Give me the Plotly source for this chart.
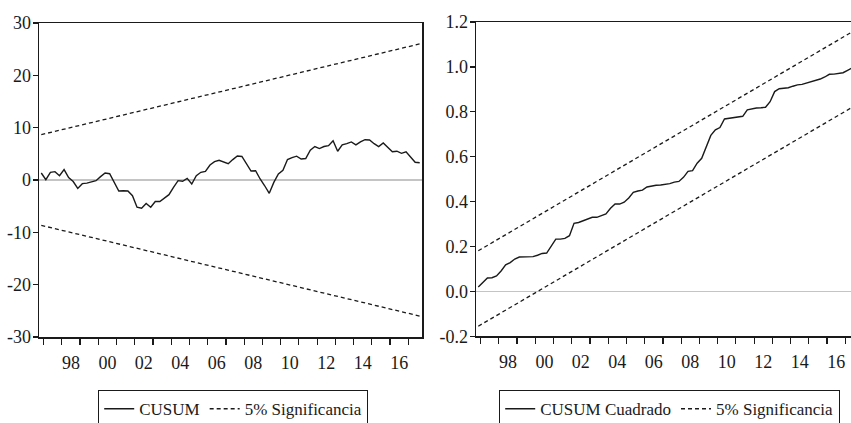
import plotly.graph_objects as go

# ---- data (quarterly, 1996Q4 .. 2017Q3) ----
start_year, start_q, n_obs = 1996, 4, 84
quarters = []
y, q = start_year, start_q
for _ in range(n_obs):
    quarters.append(f"{y}Q{q}")
    q += 1
    if q > 4:
        q, y = 1, y + 1

cusum = [1.34, 0.06, 1.47, 1.6, 0.83, 1.98, 0.45, -0.3, -1.6, -0.7,
         -0.6, -0.4, -0.13, 0.64, 1.34, 1.2, -0.45, -2.1, -2.04, -2.1,
         -3.0, -5.2, -5.4, -4.5, -5.2, -4.1, -4.1, -3.5, -2.8, -1.4,
         -0.13, -0.25, 0.32, -0.76, 0.83, 1.47, 1.66, 2.87, 3.5, 3.76,
         3.44, 3.12, 3.9, 4.6, 4.5, 3.1, 1.72, 1.78, 0.19, -1.1,
         -2.55, -0.45, 1.15, 1.85, 3.9, 4.26, 4.55, 4.0, 4.1, 5.7,
         6.4, 6.0, 6.4, 6.56, 7.5, 5.5, 6.7, 6.94, 7.27, 6.7,
         7.3, 7.7, 7.65, 6.94, 6.37, 7.07, 6.3, 5.4, 5.5, 5.1,
         5.4, 4.46, 3.38, 3.3]

cusum_sq = [0.02, 0.04, 0.06, 0.061, 0.069, 0.091, 0.118, 0.128, 0.144, 0.153,
            0.153, 0.153, 0.155, 0.161, 0.169, 0.171, 0.204, 0.233, 0.233, 0.236,
            0.248, 0.303, 0.307, 0.315, 0.322, 0.33, 0.33, 0.336, 0.345, 0.37,
            0.389, 0.389, 0.397, 0.416, 0.441, 0.447, 0.451, 0.465, 0.47, 0.473,
            0.474, 0.476, 0.48, 0.487, 0.49, 0.508, 0.535, 0.538, 0.571, 0.593,
            0.64, 0.695, 0.72, 0.73, 0.768, 0.771, 0.775, 0.779, 0.78, 0.809,
            0.814, 0.817, 0.818, 0.82, 0.845, 0.89, 0.903, 0.904, 0.907, 0.914,
            0.92, 0.922, 0.928, 0.932, 0.938, 0.946, 0.955, 0.967, 0.968, 0.97,
            0.974, 0.985, 0.995, 1.0]

cusum_upper = [8.67, 26.0]
cusum_lower = [-8.67, -26.0]
cusumsq_upper = [0.181, 1.168]
cusumsq_lower = [-0.155, 0.832]

x_tick_labels = ["98", "00", "02", "04", "06", "08", "10", "12", "14", "16"]
left_y_ticks = [30, 20, 10, 0, -10, -20, -30]
left_y_labels = ["30", "20", "10", "0", "-10", "-20", "-30"]
right_y_ticks = [1.2, 1.0, 0.8, 0.6, 0.4, 0.2, 0.0, -0.2]
right_y_labels = ["1.2", "1.0", "0.8", "0.6", "0.4", "0.2", "0.0", "-0.2"]

# ---- helpers ----
def q_to_num(s):
    yy, qq = s.split("Q")
    return int(yy) + (int(qq) - 1) * 0.25 + 0.125

xs = [q_to_num(s) for s in quarters]
x_ends = [xs[0], xs[-1]]
label_pos = [1998.5 + 2 * i for i in range(len(x_tick_labels))]
year_ticks = list(range(1997, 2018))

FONT = "Liberation Serif"
INK = "#1a1a1a"
DASH = "4px,3px"

fig = go.Figure()

# Left: CUSUM
fig.add_trace(go.Scatter(x=xs, y=cusum, mode="lines", name="CUSUM",
                         line=dict(color=INK, width=1.4), xaxis="x", yaxis="y",
                         legend="legend"))
fig.add_trace(go.Scatter(x=x_ends, y=cusum_upper, mode="lines", name="5% Significancia",
                         line=dict(color=INK, width=1.3, dash=DASH), xaxis="x", yaxis="y",
                         legend="legend"))
fig.add_trace(go.Scatter(x=x_ends, y=cusum_lower, mode="lines", showlegend=False,
                         line=dict(color=INK, width=1.3, dash=DASH), xaxis="x", yaxis="y"))

# Right: CUSUM squared
fig.add_trace(go.Scatter(x=xs, y=cusum_sq, mode="lines", name="CUSUM Cuadrado",
                         line=dict(color=INK, width=1.4), xaxis="x2", yaxis="y2",
                         legend="legend2"))
fig.add_trace(go.Scatter(x=x_ends, y=cusumsq_upper, mode="lines", name="5% Significancia",
                         line=dict(color=INK, width=1.3, dash=DASH), xaxis="x2", yaxis="y2",
                         legend="legend2"))
fig.add_trace(go.Scatter(x=x_ends, y=cusumsq_lower, mode="lines", showlegend=False,
                         line=dict(color=INK, width=1.3, dash=DASH), xaxis="x2", yaxis="y2"))

# Figure is a bit larger than the 851x423 window: the right panel and the
# legend boxes run past the window edge, as in the reference.
W, H = 870, 445

def xaxis_cfg(domain, rng, anchor):
    return dict(domain=domain, range=rng, anchor=anchor, automargin=False,
                showgrid=False, zeroline=False,
                showline=True, linecolor=INK, linewidth=1.5, mirror=True,
                tickmode="array", tickvals=label_pos, ticktext=x_tick_labels,
                ticks="", ticklabelstandoff=9,
                tickfont=dict(family=FONT, size=18, color=INK),
                minor=dict(tickmode="array", tickvals=year_ticks, ticks="outside",
                           ticklen=6, tickwidth=1.2, tickcolor=INK, showgrid=False))

def yaxis_cfg(domain, rng, vals, text, anchor):
    return dict(domain=domain, range=rng, anchor=anchor, automargin=False,
                showgrid=False,
                zeroline=True, zerolinecolor="#c4c4c4", zerolinewidth=1.2,
                showline=True, linecolor=INK, linewidth=1.5, mirror=True,
                tickmode="array", tickvals=vals, ticktext=text,
                ticks="outside", ticklen=5, tickwidth=1.2, tickcolor=INK,
                ticklabelstandoff=-2,
                tickfont=dict(family=FONT, size=18, color=INK))

legend_common = dict(orientation="h", y=1 - 390 / H, xanchor="left", yanchor="top",
                     bordercolor=INK, borderwidth=1.2, bgcolor="white",
                     font=dict(family=FONT, size=17, color=INK), itemwidth=30,
                     tracegroupgap=0)

fig.update_layout(
    template="none",
    width=W, height=H,
    margin=dict(l=0, r=0, t=0, b=0, pad=0),
    paper_bgcolor="white", plot_bgcolor="white",
    font=dict(family=FONT, color=INK),
    hovermode=False,
    xaxis=xaxis_cfg([39 / W, 422 / W], [1996.75, 2017.75], "y"),
    yaxis=yaxis_cfg([1 - 337 / H, 1 - 23 / H], [-30, 30], left_y_ticks, left_y_labels, "x"),
    xaxis2=xaxis_cfg([476 / W, 859 / W], [1996.75, 2017.75], "y2"),
    yaxis2=yaxis_cfg([1 - 336.3 / H, 1 - 22 / H], [-0.2, 1.2], right_y_ticks,
                     right_y_labels, "x2"),
    legend=dict(legend_common, x=98 / W),
    legend2=dict(legend_common, x=499 / W),
    showlegend=True,
)

fig.write_html("out.html",
               config={"displayModeBar": False, "staticPlot": True},
               post_script="document.body.style.margin='0';document.body.style.overflow='hidden';")
